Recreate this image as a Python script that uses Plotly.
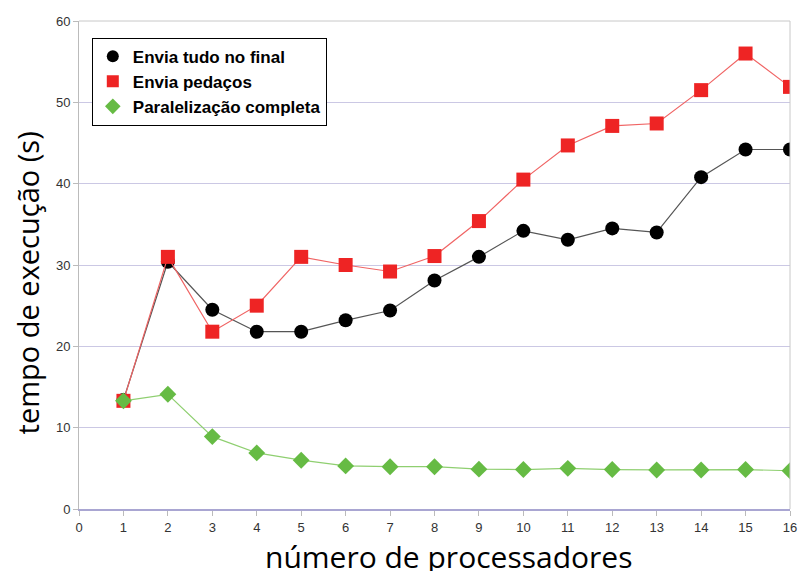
import plotly.graph_objects as go

processadores = list(range(1, 17))
envia_tudo = [13.4, 30.4, 24.5, 21.8, 21.8, 23.2, 24.4, 28.1, 31.0, 34.2, 33.1, 34.5, 34.0, 40.8, 44.2, 44.2]
envia_pedacos = [13.3, 31.0, 21.8, 25.0, 31.0, 30.0, 29.2, 31.1, 35.4, 40.5, 44.7, 47.1, 47.4, 51.5, 56.0, 51.9]
paralelizacao = [13.3, 14.1, 8.9, 6.9, 6.0, 5.3, 5.2, 5.2, 4.9, 4.85, 5.0, 4.85, 4.8, 4.8, 4.85, 4.7]

series = [
    ("Envia tudo no final", envia_tudo, "#000000", "#555555", "circle", 14),
    ("Envia pedaços", envia_pedacos, "#ee2424", "#f06464", "square", 14),
    ("Paralelização completa", paralelizacao, "#66bb44", "#8fcf70", "diamond", 13),
]

fig = go.Figure()
for name, ys, mcol, lcol, sym, size in series:
    fig.add_trace(go.Scatter(
        x=processadores, y=ys, mode="lines+markers", name=name,
        line=dict(color=lcol, width=1.2),
        marker=dict(color=mcol, symbol=sym, size=size, line=dict(width=0)),
        showlegend=False,
    ))
# legend entries show the marker only
for name, ys, mcol, lcol, sym, size in series:
    fig.add_trace(go.Scatter(
        x=[None], y=[None], mode="markers", name=name,
        marker=dict(color=mcol, symbol=sym, size=12, line=dict(width=0)),
    ))

grid = "#cbc8e4"
tickfont = dict(family="Liberation Sans", size=13, color="#333333")
fig.update_layout(
    width=798, height=571,
    margin=dict(l=79, r=8, t=21, b=62),
    paper_bgcolor="white", plot_bgcolor="white",
    showlegend=True,
    legend=dict(
        x=0.018, y=0.966, xanchor="left", yanchor="top",
        bgcolor="white", bordercolor="black", borderwidth=1,
        font=dict(family="Liberation Sans", size=17, color="black", weight="bold"),
        itemsizing="constant", tracegroupgap=0,
    ),
    xaxis=dict(
        range=[0, 16], tickmode="linear", tick0=0, dtick=1,
        showgrid=False, zeroline=False, automargin=False,
        showline=True, linecolor="#a9a6d2", linewidth=2, mirror=False,
        ticks="outside", ticklen=5, tickcolor="#bbbbbb",
        tickfont=tickfont,
    ),
    yaxis=dict(
        range=[0, 60], tickmode="linear", tick0=0, dtick=10,
        showgrid=True, gridcolor=grid, gridwidth=1, zeroline=False, automargin=False,
        showline=True, linecolor="#bbbbbb", linewidth=1,
        ticks="outside", ticklen=5, tickcolor="#bbbbbb",
        tickfont=tickfont,
    ),
)
# axis titles
fig.add_annotation(text="número de processadores", xref="paper", yref="paper",
                   x=0.52, y=-0.097, xanchor="center", yanchor="middle",
                   showarrow=False, font=dict(family="Open Sans", size=30, color="black"))
fig.add_annotation(text="tempo de execução (s)", xref="paper", yref="paper",
                   x=-0.072, y=0.464, xanchor="center", yanchor="middle", textangle=-90,
                   showarrow=False, font=dict(family="Open Sans", size=29, color="black"))
# frame on the top and right edges of the plot area
fig.add_shape(type="line", xref="paper", yref="paper", x0=0, x1=1, y0=1, y1=1,
              line=dict(color="#c8c8c8", width=1))
fig.add_shape(type="line", xref="paper", yref="paper", x0=1, x1=1, y0=0, y1=1,
              line=dict(color="#c8c8c8", width=1))

fig.write_html("out.html")
